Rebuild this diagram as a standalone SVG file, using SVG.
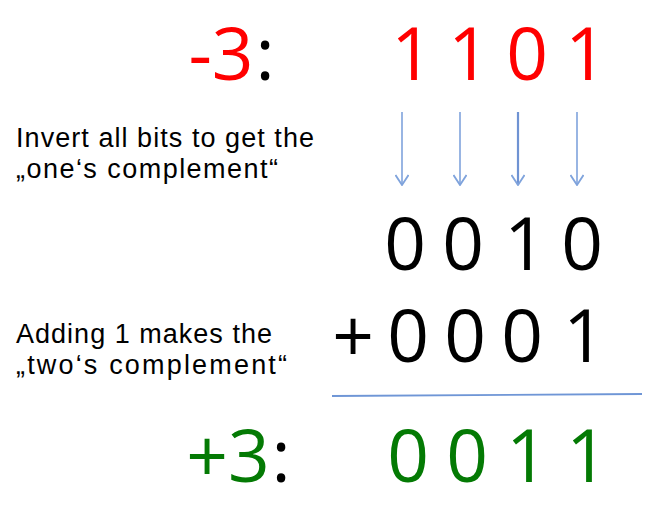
<svg xmlns="http://www.w3.org/2000/svg" width="655" height="509" viewBox="0 0 655 509">
<defs>
<style>
.big{font-family:"Open Sans","Noto Sans",sans-serif;font-size:73px;text-anchor:middle}
.lbl{font-family:"Liberation Sans",Arial,sans-serif;font-size:27px;fill:#000}
.red{fill:#FF0000}.grn{fill:#047A04}.blk{fill:#000}
.arr{stroke:#7FA3DC;stroke-width:1.6;fill:none}
</style>
<marker id="ah" viewBox="0 0 12 14" refX="11" refY="7" markerWidth="12" markerHeight="14" markerUnits="userSpaceOnUse" orient="auto">
<path d="M1,0.5 L11,7 L1,13.5" fill="none" stroke="#7FA3DC" stroke-width="1.8"/>
</marker>
</defs>
<rect width="655" height="509" fill="#fff"/>
<g id="row-minus3">
<text class="big red" x="221" y="80">-3</text>
<text class="big blk" x="265" y="80">:</text>
<text class="big red" x="412" y="80">1</text>
<text class="big red" x="469" y="80">1</text>
<text class="big red" x="527" y="80">0</text>
<text class="big red" x="586" y="80">1</text>
</g>
<g id="label-invert">
<text class="lbl" x="16" y="147" textLength="298">Invert all bits to get the</text>
<text class="lbl" x="16" y="178" textLength="262">„one‘s complement“</text>
</g>
<g id="row-ones">
<text class="big blk" x="405" y="270">0</text>
<text class="big blk" x="463" y="270">0</text>
<text class="big blk" x="525" y="270">1</text>
<text class="big blk" x="582" y="270">0</text>
</g>
<g id="label-adding">
<text class="lbl" x="16" y="343" textLength="256">Adding 1 makes the</text>
<text class="lbl" x="16" y="374" textLength="271">„two‘s complement“</text>
</g>
<g id="row-plus1">
<text class="big blk" x="353" y="362">+</text>
<text class="big blk" x="408" y="362">0</text>
<text class="big blk" x="465" y="362">0</text>
<text class="big blk" x="522" y="362">0</text>
<text class="big blk" x="584" y="362">1</text>
</g>
<g id="sum-line">
<line x1="332" y1="396" x2="642" y2="394" stroke="#6F96D6" stroke-width="1.8"/>
</g>
<g id="row-plus3">
<text class="big grn" x="228" y="482">+3</text>
<text class="big blk" x="281" y="482">:</text>
<text class="big grn" x="408" y="482">0</text>
<text class="big grn" x="467" y="482">0</text>
<text class="big grn" x="527" y="482">1</text>
<text class="big grn" x="587" y="482">1</text>
</g>
<g id="connectors">
<line class="arr" x1="402" y1="112" x2="402" y2="185" marker-end="url(#ah)"/>
<line class="arr" x1="460" y1="112" x2="460" y2="185" marker-end="url(#ah)"/>
<line class="arr" x1="518" y1="112" x2="518" y2="185" marker-end="url(#ah)" style="stroke:#6F93D3;stroke-width:2.2"/>
<line class="arr" x1="577" y1="112" x2="577" y2="185" marker-end="url(#ah)"/>
</g>
</svg>
